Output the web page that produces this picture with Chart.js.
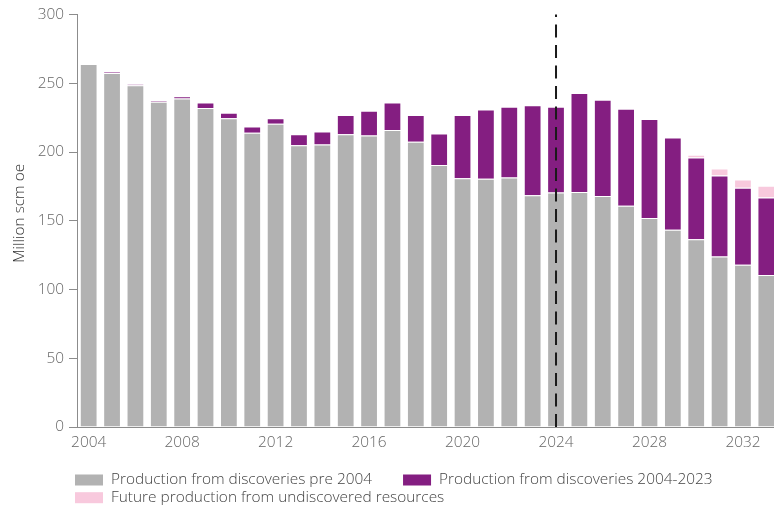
<!DOCTYPE html>
<html>
<head>
<meta charset="utf-8">
<script src="https://cdn.jsdelivr.net/npm/chart.js@4.4.1/dist/chart.umd.min.js"></script>
<style>
  html, body { margin: 0; padding: 0; background: #fff; overflow: hidden; }
  #wrap { width: 780px; height: 506px; position: relative; }
</style>
</head>
<body>
<div id="wrap"><canvas id="chart"></canvas></div>
<script>
// Production years on the category axis
const years = ['2004','2005','2006','2007','2008','2009','2010','2011','2012','2013',
               '2014','2015','2016','2017','2018','2019','2020','2021','2022','2023',
               '2024','2025','2026','2027','2028','2029','2030','2031','2032','2033'];

// Million scm oe per year
const preDiscoveries = [264, 257.5, 248.5, 236.5, 239, 232, 224.5, 214, 220.5, 205,
                        205.5, 213, 212, 216, 207.5, 190.5, 181, 180.5, 181.5, 168.5,
                        170.5, 171, 168, 161, 152, 143.5, 136.5, 124, 118, 110.5];
const newDiscoveries = [0, 0.8, 0.7, 1, 1.5, 4, 4, 4.5, 4, 8,
                        9.5, 14, 18, 20, 19.5, 23, 46, 50.5, 51.5, 65.5,
                        62.5, 72, 70, 70.5, 72, 67, 59.5, 59, 56, 56.5];
const undiscovered   = [0, 0, 0, 0, 0, 0, 0, 0, 0, 0,
                        0, 0, 0, 0, 0, 0, 0, 0, 0, 0,
                        0, 0, 0, 0, 0, 0, 2, 5, 6, 8.5];

const seriesNames = ['Production from discoveries pre 2004',
                     'Production from discoveries 2004-2023',
                     'Future production from undiscovered resources'];
const seriesColors = ['#b2b2b2', '#841e81', '#f8c9dd'];

const yTitle = 'Million scm oe';
const yMin = 0, yMax = 300, yStep = 50;
const xLabelEvery = 4;
const forecastStart = '2024';

const FONT = "'Open Sans', 'Noto Sans', sans-serif";
const FONT_SIZE = 15.4;
Chart.defaults.font.family = FONT;
Chart.defaults.font.weight = '300';

// Dashed marker separating history from forecast
const forecastLine = {
  id: 'forecastLine',
  afterDatasetsDraw(chart) {
    const { ctx, chartArea, scales } = chart;
    const x = scales.x.getPixelForValue(years.indexOf(forecastStart));
    ctx.save();
    ctx.strokeStyle = '#1a1a1a';
    ctx.lineWidth = 2;
    ctx.setLineDash([13, 7.5]);
    ctx.beginPath();
    ctx.moveTo(x, chartArea.bottom);
    ctx.lineTo(x, chartArea.top);
    ctx.stroke();
    ctx.restore();
  }
};

// Rotated value-axis title, sitting slightly above the plot's mid-height
const axisTitle = {
  id: 'axisTitle',
  afterDraw(chart) {
    const { ctx, chartArea } = chart;
    ctx.save();
    ctx.translate(20, (chartArea.top + chartArea.bottom) / 2 - 7.5);
    ctx.rotate(-Math.PI / 2);
    ctx.font = `300 ${FONT_SIZE}px ${FONT}`;
    ctx.fillStyle = '#333';
    ctx.textAlign = 'center';
    ctx.textBaseline = 'middle';
    ctx.fillText(yTitle, 0, 0);
    ctx.restore();
  }
};

// Left-aligned two-column legend under the axis
const bottomLegend = {
  id: 'bottomLegend',
  afterDraw(chart) {
    const { ctx, chartArea } = chart;
    const boxW = 28, boxH = 11, textGap = 8, itemGap = 31, rowH = 17.7;
    const left = chartArea.left - 2;
    const rows = [[0, 1], [2]];
    ctx.save();
    ctx.font = `300 ${FONT_SIZE}px ${FONT}`;
    ctx.textBaseline = 'middle';
    ctx.textAlign = 'left';
    rows.forEach((row, r) => {
      const y = chartArea.bottom + 53 + r * rowH;
      let x = left;
      row.forEach(i => {
        const ds = chart.data.datasets[i];
        ctx.fillStyle = ds.backgroundColor;
        ctx.fillRect(x, y - boxH / 2, boxW, boxH);
        ctx.fillStyle = '#444';
        ctx.fillText(ds.label, x + boxW + textGap, y);
        x += boxW + textGap + ctx.measureText(ds.label).width + itemGap;
      });
    });
    ctx.restore();
  }
};

const seriesData = [preDiscoveries, newDiscoveries, undiscovered];

new Chart(document.getElementById('chart'), {
  type: 'bar',
  data: {
    labels: years,
    datasets: seriesData.map((d, i) => ({
      label: seriesNames[i],
      data: d,
      backgroundColor: seriesColors[i],
      borderColor: 'rgba(255,255,255,0.4)',
      borderWidth: 1,
      categoryPercentage: 1,
      barPercentage: 0.76
    }))
  },
  options: {
    responsive: true,
    maintainAspectRatio: false,
    animation: false,
    layout: { padding: { top: 14.5, right: 2, left: 0, bottom: 0 } },
    plugins: {
      legend: { display: false },
      tooltip: { enabled: false }
    },
    scales: {
      x: {
        stacked: true,
        grid: { display: false, drawTicks: false },
        border: { display: true, color: '#8c8c8c', width: 1 },
        ticks: {
          autoSkip: false,
          maxRotation: 0,
          color: '#666',
          font: { size: FONT_SIZE, weight: '300' },
          padding: 6,
          callback: (v, i) => (i % xLabelEvery === 0 ? years[i] : '')
        },
        afterFit(s) { s.height = 79; }
      },
      y: {
        stacked: true,
        min: yMin,
        max: yMax,
        grid: { display: true, drawOnChartArea: false, drawTicks: true, tickLength: 8, color: '#8c8c8c' },
        border: { display: true, color: '#8c8c8c', width: 1 },
        ticks: { stepSize: yStep, color: '#666', font: { size: FONT_SIZE, weight: '300' }, padding: 5 },
        afterFit(s) { s.width = 77; }
      }
    }
  },
  plugins: [forecastLine, axisTitle, bottomLegend]
});
</script>
</body>
</html>
